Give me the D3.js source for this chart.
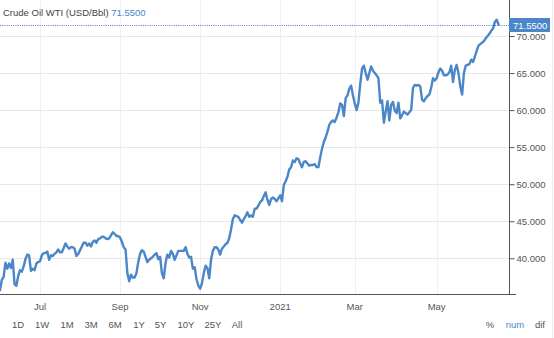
<!DOCTYPE html>
<html>
<head>
<meta charset="utf-8">
<script src="https://cdn.jsdelivr.net/npm/d3@7"></script>
<style>
  html, body { margin: 0; padding: 0; background: #fff; }
  svg { display: block; font-family: "Liberation Sans", Arial, Helvetica, sans-serif; }
</style>
</head>
<body>
<svg id="chart" width="554" height="338"></svg>
<script>
// WTI crude, one close per business day starting Mon 1 Jun 2020
const seriesName = "Crude Oil WTI (USD/Bbl)";
const lastQuote = 71.55;
const startDate = new Date(2020, 5, 1);
const prices = [
  35.7, 37.1, 37.5, 39.4, 38.6, 39.3, 38.7, 39.8, 36.5, 36.3,
  37.6, 38.4, 38.2, 38.9, 39.9, 40.5, 40.4, 38.3, 38.6, 38.4,
  39.3, 39.5, 39.6, 40.4, 40.7, 40.7, 40.9, 39.8, 40.4, 40.3,
  40.6, 40.8, 41.2, 40.8, 40.8, 41.4, 42.0, 41.6, 41.3, 41.5,
  41.5, 41.3, 40.3, 40.6, 41.1, 41.6, 42.1, 42.1, 41.7, 42.0,
  41.6, 42.2, 42.4, 42.1, 42.6, 42.7, 42.9, 42.9, 42.7, 42.6,
  42.7, 43.1, 43.5, 43.3, 43.0, 43.0, 42.8, 42.2, 41.5, 41.2,
  38.0, 36.9, 37.8, 37.4, 37.4, 38.0, 39.5, 40.6, 41.1, 40.9,
  40.2, 39.5, 39.8, 40.0, 40.2, 40.5, 40.7, 39.9, 40.2, 38.0,
  37.3, 39.4, 40.5, 40.1, 41.0, 40.6, 39.8, 40.4, 41.0, 41.0,
  41.0, 41.0, 41.5, 40.6, 40.1, 40.2, 38.6, 38.8, 37.2, 36.3,
  35.9, 36.6, 38.0, 39.0, 38.7, 37.3, 39.8, 41.0, 41.5, 41.5,
  41.2, 40.5, 41.3, 41.6, 41.9, 42.1, 42.7, 43.9, 45.3, 45.8,
  45.7, 45.6, 45.2, 44.8, 45.3, 45.7, 46.2, 45.6, 45.8, 45.6,
  46.7, 46.7, 47.1, 47.6, 47.8, 48.4, 48.9, 47.9, 47.2, 48.0,
  48.2, 48.0, 47.7, 48.1, 48.5, 47.7, 49.9, 50.4, 51.0, 52.0,
  52.3, 53.2, 53.0, 53.5, 53.4, 52.8, 52.3, 53.0, 53.1, 52.8,
  52.5, 52.6, 52.6, 52.7, 52.3, 52.3, 53.6, 54.8, 55.7, 56.3,
  57.1, 58.0, 58.4, 58.6, 58.4, 59.0, 59.7, 60.9, 60.7, 59.2,
  61.6, 62.0, 62.9, 63.3, 62.0, 60.9, 60.0, 61.0, 63.5, 65.6,
  66.0, 65.0, 64.1, 65.0, 65.9, 65.3, 65.0, 64.7, 64.3, 61.0,
  61.3, 58.3, 59.8, 61.2, 58.6, 60.7, 61.1, 59.9, 59.6, 61.0,
  58.9, 59.3, 59.8, 59.6, 59.4, 59.7, 60.0, 63.0, 63.4, 63.3,
  63.4, 63.2, 61.4, 61.2, 61.6, 61.9, 62.1, 63.0, 64.3, 64.0,
  64.3, 65.1, 65.6, 65.3, 64.7, 64.7, 64.8, 65.1, 66.0, 63.8,
  65.4, 66.1, 65.0, 63.2, 62.1, 65.0, 66.0, 66.1, 66.2, 66.8,
  66.5, 67.2, 68.0, 68.7, 68.9, 69.1, 69.3, 69.7, 70.0, 70.3,
  70.7, 71.0, 71.9, 72.2, 71.55
];
const monthTicks = [
  new Date(2020, 6, 1), new Date(2020, 8, 1), new Date(2020, 10, 1),
  new Date(2021, 0, 1), new Date(2021, 2, 1), new Date(2021, 4, 1)
];
const priceTicks = [40, 45, 50, 55, 60, 65, 70];
const rangeButtons = ["1D", "1W", "1M", "3M", "6M", "1Y", "5Y", "10Y", "25Y", "All"];
const modeButtons = ["%", "num", "dif"];

const blue = "#4a86c8";
const textGrey = "#555";
const svg = d3.select("#chart");

const plot = { left: 0, right: 509, top: 0, bottom: 294 };

// Sessions are counted Mon–Fri so weekends leave no gaps on the time axis
const isWeekday = d => d.getDay() % 6 !== 0;
const sessionIndex = date => d3.timeDay.range(startDate, date).filter(isWeekday).length;
const sessionDates = d3.timeDay.range(startDate, new Date(2021, 11, 31))
  .filter(isWeekday).slice(0, prices.length);
const data = prices.map((v, i) => ({ date: sessionDates[i], value: v }));

const x = d3.scaleLinear().domain([0, prices.length - 1]).range([plot.left, 498.5]);
const y = d3.scaleLinear().domain([40, 70]).range([258.3, 36]);

// grid
const grid = svg.append("g");
grid.selectAll("line.h").data(priceTicks).join("line")
  .attr("x1", plot.left).attr("x2", plot.right)
  .attr("y1", d => Math.round(y(d)) + 0.5).attr("y2", d => Math.round(y(d)) + 0.5)
  .attr("stroke", "#e8e8e8").attr("stroke-width", 1);
grid.selectAll("line.v").data(monthTicks).join("line")
  .attr("x1", d => Math.round(x(sessionIndex(d))) + 0.5)
  .attr("x2", d => Math.round(x(sessionIndex(d))) + 0.5)
  .attr("y1", plot.top).attr("y2", plot.bottom)
  .attr("stroke", "#edf1f5").attr("stroke-width", 1);

// right price axis
const yAxis = d3.axisRight(y).tickValues(priceTicks).tickFormat(d3.format(".3f"))
  .tickSize(5).tickPadding(2);
const yAxisG = svg.append("g").attr("transform", `translate(${plot.right + 0.5},0)`).call(yAxis);
yAxisG.select(".domain").remove();
yAxisG.selectAll(".tick line").attr("stroke", textGrey);
yAxisG.selectAll(".tick text").attr("fill", textGrey)
  .style("font-size", "9.5px").style("font-family", "Liberation Sans, Arial, sans-serif");
svg.append("line")
  .attr("x1", plot.right + 0.5).attr("x2", plot.right + 0.5)
  .attr("y1", plot.top).attr("y2", plot.bottom)
  .attr("stroke", textGrey).attr("stroke-width", 1);

// bottom time axis
const monthLabel = d => d.getMonth() === 0 ? d3.timeFormat("%Y")(d) : d3.timeFormat("%b")(d);
svg.append("line")
  .attr("x1", plot.left).attr("x2", 516)
  .attr("y1", plot.bottom + 0.5).attr("y2", plot.bottom + 0.5)
  .attr("stroke", textGrey).attr("stroke-width", 1);
svg.append("g").selectAll("text").data(monthTicks).join("text")
  .attr("x", d => x(sessionIndex(d)))
  .attr("y", 309.5)
  .attr("text-anchor", "middle")
  .attr("fill", textGrey)
  .style("font-size", "9.5px")
  .text(monthLabel);

// price line
const line = d3.line()
  .x((d, i) => x(i))
  .y(d => y(d.value));
svg.append("path")
  .datum(data)
  .attr("fill", "none")
  .attr("stroke", blue)
  .attr("stroke-width", 2.4)
  .attr("stroke-linejoin", "round")
  .attr("stroke-linecap", "round")
  .attr("d", line);

// last quote marker
const yq = Math.round(y(lastQuote)) + 0.5;
svg.append("line")
  .attr("x1", plot.left).attr("x2", plot.right)
  .attr("y1", yq).attr("y2", yq)
  .attr("stroke", "#3a4fe0").attr("stroke-width", 0.8)
  .attr("stroke-dasharray", "1,1.2");
svg.append("rect")
  .attr("x", plot.right).attr("y", yq - 7.5)
  .attr("width", 41).attr("height", 14)
  .attr("fill", blue);
svg.append("text")
  .attr("x", plot.right + 4).attr("y", yq + 3.5)
  .attr("fill", "#fff")
  .style("font-size", "9.5px")
  .text(d3.format(".4f")(lastQuote));

// title
const title = svg.append("text").attr("x", 3).attr("y", 16).style("font-size", "9.5px");
title.append("tspan").attr("fill", "#444").text(seriesName + " ");
title.append("tspan").attr("fill", blue).text(d3.format(".4f")(lastQuote));

// range selector
const buttonX = [18, 42, 67, 91, 115, 139, 160.5, 186, 213, 237];
svg.append("g").selectAll("text").data(rangeButtons).join("text")
  .attr("x", (d, i) => buttonX[i])
  .attr("y", 327.5)
  .attr("text-anchor", "middle")
  .attr("fill", textGrey)
  .style("font-size", "9.5px")
  .text(d => d);

const modeX = [490, 515, 540];
svg.append("g").selectAll("text").data(modeButtons).join("text")
  .attr("x", (d, i) => modeX[i])
  .attr("y", 327.5)
  .attr("text-anchor", "middle")
  .attr("fill", d => d === "num" ? blue : textGrey)
  .style("font-size", "9.5px")
  .text(d => d);

// panel edge
svg.append("line")
  .attr("x1", 552.5).attr("x2", 552.5).attr("y1", 0).attr("y2", 338)
  .attr("stroke", "#ececec");
</script>
</body>
</html>
